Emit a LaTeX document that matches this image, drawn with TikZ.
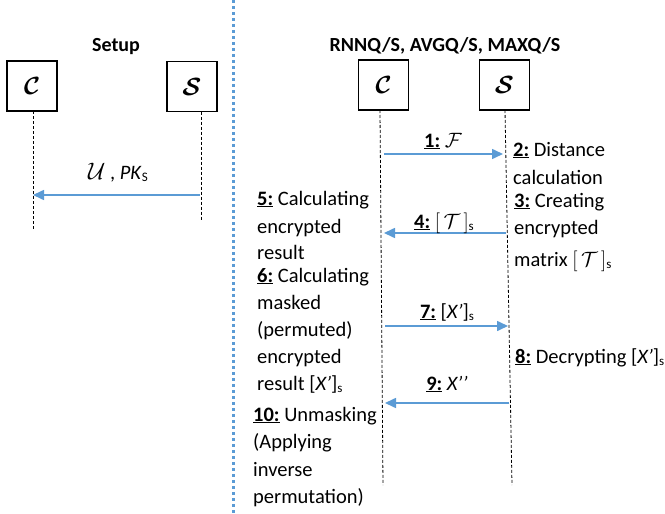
\documentclass[tikz,border=0pt]{standalone}
\usepackage{fontspec}
\setmainfont{Carlito}
\usetikzlibrary{arrows.meta}
\definecolor{arrblue}{HTML}{5B9BD5}
\newcommand{\lowsub}[1]{\raisebox{-2.5pt}{\fontsize{13}{13}\selectfont #1}}
\newcommand{\stepno}[1]{\underline{\textbf{#1}}}
\begin{document}
\begin{tikzpicture}[x=1pt,y=-1pt,
  box/.style={draw=black,line width=1.2pt,minimum width=50pt,minimum height=50pt,inner sep=0pt,font=\fontsize{30}{30}\selectfont\boldmath},
  life/.style={draw=black,line width=0.8pt,dash pattern=on 3pt off 2pt},
  msg/.style={draw=arrblue,line width=1.6pt,-{Triangle[length=11pt,width=10pt]}},
  txt/.style={anchor=base west,inner sep=0pt,font=\fontsize{20.5}{27}\selectfont},
  lbl/.style={anchor=base,inner sep=0pt,font=\fontsize{20.5}{27}\selectfont},
  ttl/.style={anchor=base,inner sep=0pt,font=\fontsize{20}{24}\selectfont\bfseries}]
\useasboundingbox (0,0) rectangle (665,514);
% divider
\coordinate (dT) at (233,0);
\coordinate (dB) at (233,514);
\draw[arrblue,line width=3pt,dash pattern=on 3pt off 3pt] (dT) -- (dB);
% ---------- Setup ----------
\node[ttl] (t1) at (116,52) {Setup};
\node[box] (lc) at (32,86) {$\mathcal{C}$};
\node[box] (ls) at (192,86.5) {$\mathcal{S}$};
\coordinate (lcT) at (33,111);
\coordinate (lcB) at (33,229);
\coordinate (lsT) at (201,111.5);
\coordinate (lsB) at (201,221);
\draw[life] (lcT) -- (lcB);
\draw[life] (lsT) -- (lsB);
\coordinate (a0s) at (200,195);
\coordinate (a0e) at (33,195);
\draw[msg] (a0s) -- (a0e);
\node[lbl] (l0) at (118,179) {\scalebox{1.15}{$\mathcal{U}$} , \textit{PK}\lowsub{S}};
% ---------- Query ----------
\node[ttl] (t2) at (445,51) {RNNQ/S, AVGQ/S, MAXQ/S};
\node[box] (rc) at (383.5,85) {$\mathcal{C}$};
\node[box] (rs) at (504.5,85) {$\mathcal{S}$};
\coordinate (rcT) at (380,110);
\coordinate (rcB) at (383,485);
\coordinate (rsT) at (505,110);
\coordinate (rsB) at (512,485);
\draw[life] (rcT) -- (rcB);
\draw[life] (rsT) -- (rsB);
% messages
\coordinate (a1s) at (384,154);
\coordinate (a1e) at (503,154);
\draw[msg] (a1s) -- (a1e);
\node[lbl] (l1) at (443,147) {\stepno{1:} $\mathcal{F}$};
\coordinate (a4s) at (506,233);
\coordinate (a4e) at (384,233);
\draw[msg] (a4s) -- (a4e);
\node[lbl] (l4) at (444,228) {\stepno{4:} $[\,\mathcal{T}\,]$\lowsub{s}};
\coordinate (a7s) at (385,326);
\coordinate (a7e) at (508,326);
\draw[msg] (a7s) -- (a7e);
\node[lbl] (l7) at (447,318) {\stepno{7:} [\textit{X’}]\lowsub{s}};
\coordinate (a9s) at (509,403);
\coordinate (a9e) at (385,403);
\draw[msg] (a9s) -- (a9e);
\node[lbl] (l9) at (447,390) {\stepno{9:} \textit{X’’}};
% server-side texts
\node[txt] (s2a) at (513,156) {\stepno{2:} Distance};
\node[txt] (s2b) at (513,184) {calculation};
\node[txt] (s3a) at (514,207) {\stepno{3:} Creating};
\node[txt] (s3b) at (514,234) {encrypted};
\node[txt] (s3c) at (514,266) {matrix $[\,\mathcal{T}\,]$\lowsub{s}};
\node[txt] (s8) at (515,363) {\stepno{8:} Decrypting [\textit{X’}]\lowsub{s}};
% client-side texts
\node[txt] (c5a) at (257,205) {\stepno{5:} Calculating};
\node[txt] (c5b) at (257,233) {encrypted};
\node[txt] (c5c) at (257,259) {result};
\node[txt] (c6a) at (257,282) {\stepno{6:} Calculating};
\node[txt] (c6b) at (257,309) {masked};
\node[txt] (c6c) at (257,336) {(permuted)};
\node[txt] (c6d) at (257,363) {encrypted};
\node[txt] (c6e) at (257,390) {result [\textit{X’}]\lowsub{s}};
\node[txt] (c10a) at (253,421) {\stepno{10:} Unmasking};
\node[txt] (c10b) at (253,448) {(Applying};
\node[txt] (c10c) at (253,476) {inverse};
\node[txt] (c10d) at (253,503) {permutation)};
\end{tikzpicture}
\end{document}
